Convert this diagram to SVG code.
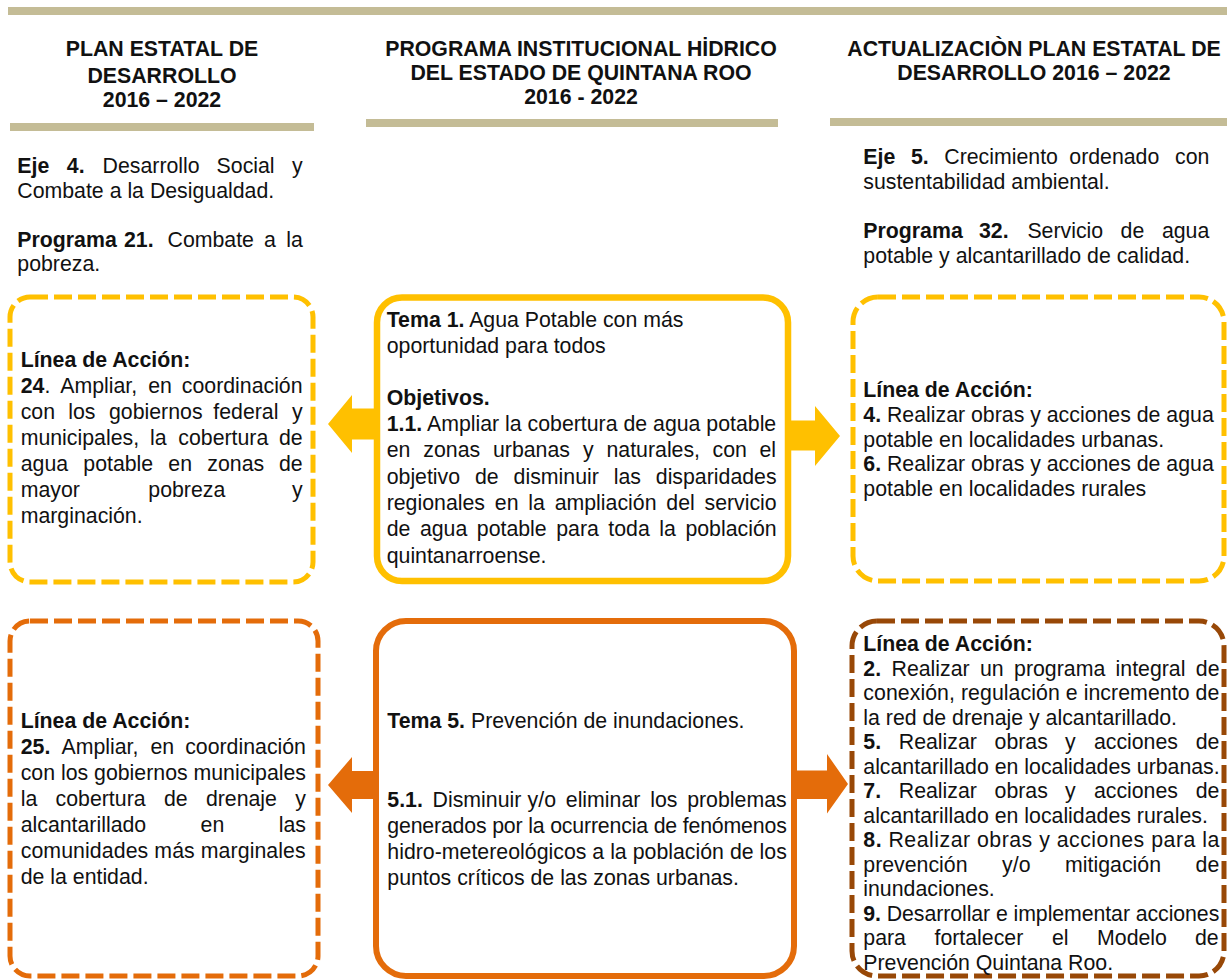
<svg xmlns="http://www.w3.org/2000/svg" width="1227" height="979" viewBox="0 0 1227 979">
<style>
text{font-family:"Liberation Sans",Arial,Helvetica,sans-serif;font-size:21.3px;fill:#111}
.b{font-weight:bold}
.h{font-weight:bold;text-anchor:middle}
.bar{fill:#C4BC96}
.dash{fill:none;stroke-width:5;stroke-dasharray:18 6}
.solid{fill:none}
.y{stroke:#FFC000}
.o{stroke:#E46C0A}
.br{stroke:#984807}
</style>
<rect width="1227" height="979" fill="#fff"/>
<g id="bars">
<rect class="bar" x="8" y="7" width="1219" height="8"/>
<rect class="bar" x="10" y="123" width="304" height="8"/>
<rect class="bar" x="366" y="119" width="412" height="8"/>
<rect class="bar" x="830" y="118" width="397" height="8"/>
</g>
<g id="header-left">
<text class="h" x="162" y="56">PLAN ESTATAL DE</text>
<text class="h" x="162" y="82.5">DESARROLLO</text>
<text class="h" x="162" y="107">2016 – 2022</text>
</g>
<g id="header-mid">
<text class="h" x="581" y="56">PROGRAMA INSTITUCIONAL HİDRICO</text>
<text class="h" x="581" y="80">DEL ESTADO DE QUINTANA ROO</text>
<text class="h" x="581" y="104">2016 - 2022</text>
</g>
<g id="header-right">
<text class="h" x="1034" y="56">ACTUALIZACIÒN PLAN ESTATAL DE</text>
<text class="h" x="1034" y="80">DESARROLLO 2016 – 2022</text>
</g>
<g id="intro-left">
<text y="173.3"><tspan class="b" x="17.3">Eje</tspan><tspan class="b" x="66.8">4.</tspan><tspan x="102.6">Desarrollo</tspan><tspan x="216.6">Social</tspan><tspan x="292">y</tspan></text>
<text x="17.3" y="198.3">Combate a la Desigualdad.</text>
<text y="246.7"><tspan class="b" x="17.3">Programa</tspan><tspan class="b" x="124">21.</tspan><tspan x="167.5">Combate</tspan><tspan x="264">a</tspan><tspan x="286.2">la</tspan></text>
<text x="17.3" y="270.7">pobreza.</text>
</g>
<g id="intro-right">
<text y="164.3"><tspan class="b" x="863.3">Eje</tspan><tspan class="b" x="910.9">5.</tspan><tspan x="944.3">Crecimiento</tspan><tspan x="1069.3">ordenado</tspan><tspan x="1175">con</tspan></text>
<text x="863.3" y="189.3">sustentabilidad ambiental.</text>
<text y="238.3"><tspan class="b" x="863.3">Programa</tspan><tspan class="b" x="979">32.</tspan><tspan x="1027.4">Servicio</tspan><tspan x="1120.6">de</tspan><tspan x="1161.9">agua</tspan></text>
<text x="863.3" y="263">potable y alcantarillado de calidad.</text>
</g>
<g id="connectors">
<polygon fill="#FFC000" points="377,408.5 352,408.5 352,395 328,424 352,453 352,439.5 377,439.5"/>
<polygon fill="#FFC000" points="788,420.5 815,420.5 815,406 840,436 815,466 815,450.5 788,450.5"/>
<polygon fill="#E46C0A" points="376,771 352,771 352,757 328,785 352,813 352,799 376,799"/>
<polygon fill="#E46C0A" points="794,770.5 827,770.5 827,754 848,784 827,813.5 827,799 794,799"/>
</g>
<g id="box-left-yellow">
<rect class="dash y" x="10" y="297" width="303" height="285" rx="20"/>
<text class="b" x="20.7" y="367.3">Línea de Acción:</text>
<text y="393.3"><tspan class="b" x="20.7">24</tspan>.<tspan x="60.2">Ampliar,</tspan><tspan x="148.2">en</tspan><tspan x="181.8">coordinación</tspan></text>
<text y="419.3"><tspan x="20.7">con</tspan><tspan x="68.3">los</tspan><tspan x="109">gobiernos</tspan><tspan x="213.3">federal</tspan><tspan x="292">y</tspan></text>
<text y="445.3"><tspan x="20.7">municipales,</tspan><tspan x="150">la</tspan><tspan x="178.3">cobertura</tspan><tspan x="279">de</tspan></text>
<text y="471.3"><tspan x="20.7">agua</tspan><tspan x="83.3">potable</tspan><tspan x="168.3">en</tspan><tspan x="207.3">zonas</tspan><tspan x="279">de</tspan></text>
<text y="497.3"><tspan x="20.7">mayor</tspan><tspan x="148.3">pobreza</tspan><tspan x="292">y</tspan></text>
<text x="20.7" y="523.3">marginación.</text>
</g>
<g id="box-mid-yellow">
<rect class="solid y" stroke-width="6.5" x="377" y="297.5" width="411" height="283.5" rx="25"/>
<text x="386.7" y="326.7"><tspan class="b">Tema 1.</tspan> Agua Potable con más</text>
<text x="386.7" y="352.7">oportunidad para todos</text>
<text class="b" x="386.7" y="405">Objetivos.</text>
<text x="386.7" y="431"><tspan class="b">1.1.</tspan> Ampliar la cobertura de agua potable</text>
<text y="457.3"><tspan x="386.7">en</tspan><tspan x="423.3">zonas</tspan><tspan x="493">urbanas</tspan><tspan x="582.9">y</tspan><tspan x="606.5">naturales,</tspan><tspan x="712.5">con</tspan><tspan x="759.5">el</tspan></text>
<text y="483.5"><tspan x="386.7">objetivo</tspan><tspan x="475">de</tspan><tspan x="513.6">disminuir</tspan><tspan x="613.7">las</tspan><tspan x="655.8">disparidades</tspan></text>
<text y="509.8"><tspan x="386.7">regionales</tspan><tspan x="494.8">en</tspan><tspan x="528.3">la</tspan><tspan x="554.7">ampliación</tspan><tspan x="666.3">del</tspan><tspan x="704.5">servicio</tspan></text>
<text y="536.2"><tspan x="386.7">de</tspan><tspan x="419.9">agua</tspan><tspan x="476.8">potable</tspan><tspan x="556.2">para</tspan><tspan x="608.3">toda</tspan><tspan x="659.3">la</tspan><tspan x="685.4">población</tspan></text>
<text x="386.7" y="562.5">quintanarroense.</text>
</g>
<g id="box-right-yellow">
<rect class="dash y" x="853" y="297" width="371" height="284" rx="25"/>
<text class="b" x="863.3" y="397">Línea de Acción:</text>
<text x="863.3" y="421.8"><tspan class="b">4.</tspan> Realizar obras y acciones de agua</text>
<text x="863.3" y="446.5">potable en localidades urbanas.</text>
<text x="863.3" y="471.2"><tspan class="b">6.</tspan> Realizar obras y acciones de agua</text>
<text x="863.3" y="496">potable en localidades rurales</text>
</g>
<g id="box-left-orange">
<rect class="dash o" x="10" y="621" width="308" height="355" rx="20"/>
<text class="b" x="20.7" y="728.3">Línea de Acción:</text>
<text y="754.3"><tspan class="b" x="20.7">25.</tspan><tspan x="61.5">Ampliar,</tspan><tspan x="150.5">en</tspan><tspan x="185.2">coordinación</tspan></text>
<text x="20.7" y="780.3">con los gobiernos municipales</text>
<text y="806.3"><tspan x="20.7">la</tspan><tspan x="55.6">cobertura</tspan><tspan x="163.9">de</tspan><tspan x="205.9">drenaje</tspan><tspan x="295.2">y</tspan></text>
<text y="832.3"><tspan x="20.7">alcantarillado</tspan><tspan x="200.6">en</tspan><tspan x="278.8">las</tspan></text>
<text x="20.7" y="858.3" textLength="285" lengthAdjust="spacing">comunidades más marginales</text>
<text x="20.7" y="884.3">de la entidad.</text>
</g>
<g id="box-mid-orange">
<rect class="solid o" stroke-width="6" x="376" y="621" width="418" height="355" rx="30"/>
<text x="387.3" y="728.3"><tspan class="b">Tema 5.</tspan> Prevención de inundaciones.</text>
<text y="806.5"><tspan class="b" x="387.3">5.1.</tspan><tspan x="432.6">Disminuir</tspan><tspan x="527.6">y/o</tspan><tspan x="565.8">eliminar</tspan><tspan x="650.2">los</tspan><tspan x="687.2">problemas</tspan></text>
<text x="387.3" y="832.7" textLength="399.5" lengthAdjust="spacing">generados por la ocurrencia de fenómenos</text>
<text x="387.3" y="858.9" textLength="399.5" lengthAdjust="spacing">hidro-metereológicos a la población de los</text>
<text x="387.3" y="885">puntos críticos de las zonas urbanas.</text>
</g>
<g id="box-right-brown">
<rect class="dash br" x="852" y="621" width="372" height="355" rx="25"/>
<text class="b" x="863.3" y="650.7">Línea de Acción:</text>
<text y="675.5"><tspan class="b" x="863.3">2.</tspan><tspan x="891.5">Realizar</tspan><tspan x="980">un</tspan><tspan x="1014.1">programa</tspan><tspan x="1115.6">integral</tspan><tspan x="1195.8">de</tspan></text>
<text x="863.3" y="700" textLength="356" lengthAdjust="spacing">conexión, regulación e incremento de</text>
<text x="863.3" y="724.5">la red de drenaje y alcantarillado.</text>
<text y="749"><tspan class="b" x="863.3">5.</tspan><tspan x="898.8">Realizar</tspan><tspan x="994.6">obras</tspan><tspan x="1065">y</tspan><tspan x="1093.9">acciones</tspan><tspan x="1195.7">de</tspan></text>
<text x="863.3" y="773.5">alcantarillado en localidades urbanas.</text>
<text y="798"><tspan class="b" x="863.3">7.</tspan><tspan x="898.8">Realizar</tspan><tspan x="994.6">obras</tspan><tspan x="1065">y</tspan><tspan x="1093.9">acciones</tspan><tspan x="1195.7">de</tspan></text>
<text x="863.3" y="822.5">alcantarillado en localidades rurales.</text>
<text x="863.3" y="847" textLength="356" lengthAdjust="spacing"><tspan class="b">8.</tspan> Realizar obras y acciones para la</text>
<text y="871.5"><tspan x="863.3">prevención</tspan><tspan x="1002.1">y/o</tspan><tspan x="1065.1">mitigación</tspan><tspan x="1195.6">de</tspan></text>
<text x="863.3" y="896">inundaciones.</text>
<text x="863.3" y="920.5" textLength="356" lengthAdjust="spacing"><tspan class="b">9.</tspan> Desarrollar e implementar acciones</text>
<text y="945"><tspan x="863.3">para</tspan><tspan x="934.5">fortalecer</tspan><tspan x="1051.9">el</tspan><tspan x="1097.1">Modelo</tspan><tspan x="1195">de</tspan></text>
<text x="863.3" y="969.5">Prevención Quintana Roo.</text>
</g>
</svg>
